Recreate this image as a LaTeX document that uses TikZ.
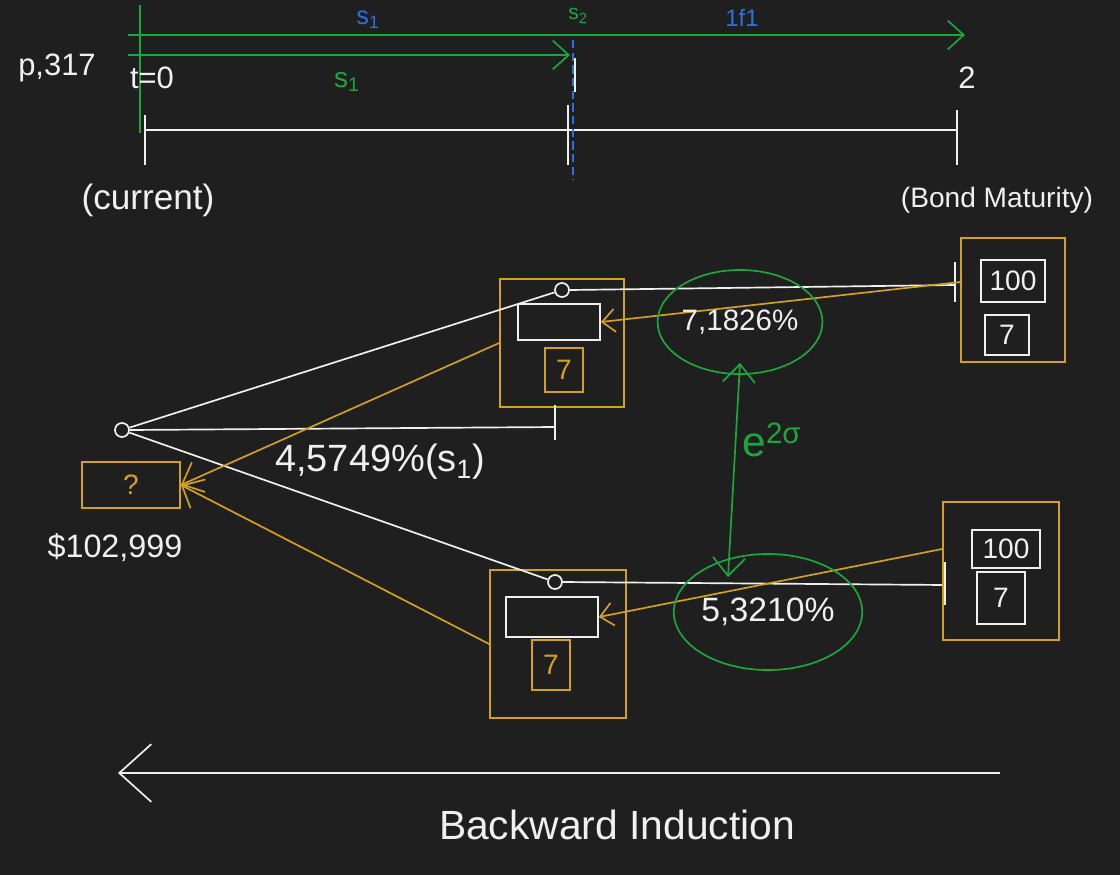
\documentclass[tikz,border=0pt]{standalone}
\usepackage{fontspec}
\setmainfont{Liberation Sans}
\usetikzlibrary{arrows.meta,shapes.geometric}

\definecolor{board}{HTML}{1F1F1F}
\definecolor{chalk}{HTML}{F0F0F0}
\definecolor{ochre}{HTML}{D4A11E}
\definecolor{leaf}{HTML}{1DA63C}
\definecolor{sky}{HTML}{2F6FE0}

\begin{document}
\begin{tikzpicture}[x=0.025cm, y=-0.025cm,
    wline/.style={draw=chalk, line width=1.2pt},
    gline/.style={draw=ochre, line width=1.2pt},
    tline/.style={draw=leaf, line width=1.2pt},
    hand/.style={text=chalk, inner sep=0pt, font=\fontsize{#1}{#1}\selectfont},
    outer/.style={draw=ochre, line width=1.2pt, inner sep=0pt},
    wbox/.style={draw=chalk, line width=1.2pt, inner sep=0pt, text=chalk, font=\fontsize{20}{20}\selectfont},
    cbox/.style={draw=ochre, line width=1.2pt, inner sep=0pt, text=ochre, font=\fontsize{20}{20}\selectfont},
    dot/.style={circle, draw=chalk, line width=1.2pt, minimum size=0.35cm, inner sep=0pt},
    rate/.style={ellipse, draw=leaf, line width=1.2pt, text=chalk, inner sep=0pt},
    barb/.style={-{Straight Barb[length=#1, width=1.8*#1, line width=1.2pt]}}
]

% Tableau
\useasboundingbox[fill=board] (0,0) rectangle (1120,875);

% Axe du temps
\coordinate (t0) at (145,130);
\coordinate (t1) at (568,130);
\coordinate (t2) at (957,130);
\draw[wline] (t0) -- (t2);
\draw[wline] (145,115) -- (145,165);
\draw[wline] (568,105) -- (568,165);
\draw[wline] (957,110) -- (957,165);
\draw[wline] (575,58) -- (575,92);
\draw[draw=sky, line width=1.6pt, dash pattern=on 6pt off 3pt] (573,40) -- (573,180);

% Taux spot et forward
\coordinate (g0) at (140,5);
\coordinate (g1) at (140,133);
\draw[tline] (g0) -- (g1);
\coordinate (f0) at (128,35);
\coordinate (f2) at (965,35);
\draw[tline, barb=4mm] (f0) -- (f2);
\coordinate (s0) at (128,55);
\coordinate (s1) at (570,55);
\draw[tline, barb=4mm] (s0) -- (s1);

\node[hand=18, text=sky] (s1top) at (368,20) {s\textsubscript{1}};
\node[hand=15, text=leaf] (s2top) at (578,16) {s\textsubscript{2}};
\node[hand=17, text=sky] (fwd) at (742,18) {1f1};
\node[hand=20, text=leaf] (s1low) at (347,82) {s\textsubscript{1}};

\node[hand=22] (page) at (57,68) {p,317};
\node[hand=22] (tzero) at (152,78) {t=0};
\node[hand=22] (ttwo) at (967,78) {2};
\node[hand=25] (now) at (148,200) {(current)};
\node[hand=20] (mat) at (997,200) {(Bond Maturity)};

% Arbre de taux
\node[dot] (r) at (122,430) {};
\node[outer, minimum width=3.1cm, minimum height=3.2cm] (ubox) at (562,343) {};
\node[outer, minimum width=3.4cm, minimum height=3.7cm] (dbox) at (558,644) {};
\node[dot] (u) at (562,290) {};
\node[dot] (d) at (555,582) {};

\coordinate (rend) at (555,427);
\coordinate (uend) at (955,285);
\coordinate (dend) at (945,585);
\draw[wline] (r) -- (u);
\draw[wline] (r) -- (d);
\draw[wline] (r.east) -- (rend);
\draw[wline] (555,405) -- (555,440);
\draw[wline] (u.east) -- (uend);
\draw[wline] (955,262) -- (955,302);
\draw[wline] (d.east) -- (dend);
\draw[wline] (945,562) -- (945,605);

% Noeuds t=1
\node[wbox, minimum width=2.05cm, minimum height=0.9cm] (urect) at (559,322) {};
\node[cbox, minimum width=0.95cm, minimum height=1.1cm] (ucoup) at (564,370) {7};
\node[wbox, minimum width=2.3cm, minimum height=1.0cm] (drect) at (552,617) {};
\node[cbox, minimum width=0.95cm, minimum height=1.25cm] (dcoup) at (551,665) {7};

% Noeuds maturite
\node[outer, minimum width=2.6cm, minimum height=3.1cm] (mbox1) at (1013,300) {};
\node[wbox, minimum width=1.6cm, minimum height=1.05cm] (m1face) at (1013,281) {100};
\node[wbox, minimum width=1.1cm, minimum height=1.0cm] (m1coup) at (1007,335) {7};
\node[outer, minimum width=2.9cm, minimum height=3.45cm] (mbox2) at (1001,571) {};
\node[wbox, minimum width=1.7cm, minimum height=0.95cm] (m2face) at (1006,549) {100};
\node[wbox, minimum width=1.2cm, minimum height=1.3cm] (m2coup) at (1001,598) {7};

% Noeud racine
\node[cbox, minimum width=2.45cm, minimum height=1.15cm] (rbox) at (131,485) {?};
\node[hand=23] (price) at (115,548) {\$102,999};

% Actualisation
\draw[gline, barb=3.2mm] ([yshift=0.45cm]mbox1.west) -- (urect.east);
\draw[gline, barb=3.2mm] ([yshift=0.55cm]mbox2.west) -- (drect.east);
\draw[gline, barb=4.5mm] (ubox.west) -- (rbox.east);
\draw[gline, barb=4.5mm] (dbox.west) -- (rbox.east);

% Taux
\node[hand=27] (r0) at (380,462) {4,5749\%(s\textsubscript{1})};
\node[rate, minimum width=3.25cm, minimum height=2.6cm, font=\fontsize{21}{21}\selectfont] (ru) at (740,322) {7,1826\%};
\node[rate, minimum width=4.4cm, minimum height=2.9cm, font=\fontsize{24}{24}\selectfont] (rd) at (768,612) {5,3210\%};
\draw[tline, {Straight Barb[length=4.5mm, width=8mm, line width=1.2pt]}-{Straight Barb[length=4.5mm, width=8mm, line width=1.2pt]}]
    ([yshift=0.3cm]ru.south) -- ([xshift=-1cm, yshift=-0.6cm]rd.north);
\node[hand=30, text=leaf] (vol) at (772,440) {e\textsuperscript{2σ}};

% Induction
\coordinate (b0) at (1000,773);
\coordinate (b1) at (118,773);
\draw[wline, barb=8mm] (b0) -- (b1);
\node[hand=29] (back) at (617,825) {Backward Induction};

\end{tikzpicture}
\end{document}
